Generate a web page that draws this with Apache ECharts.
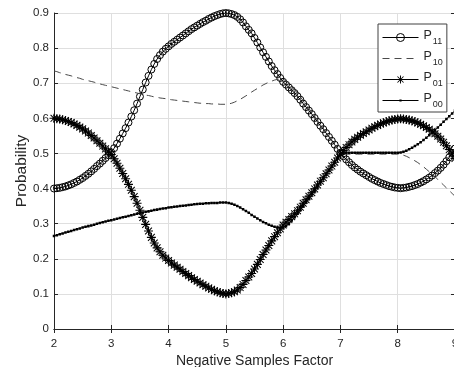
<!DOCTYPE html>
<html>
<head>
<meta charset="utf-8">
<script src="https://cdn.jsdelivr.net/npm/echarts@6/dist/echarts.min.js"></script>
<style>
  html, body { margin: 0; padding: 0; background: #fff; }
  #chart { width: 454px; height: 367px; }
</style>
</head>
<body>
<div id="chart"></div>
<script>
// negative samples factor (x), sampled every 0.05
const factors = [
  2.00, 2.05, 2.10, 2.15, 2.20, 2.25, 2.30, 2.35, 2.40, 2.45, 2.50, 2.55, 2.60, 2.65, 2.70, 2.75, 2.80, 2.85, 2.90, 2.95,
  3.00, 3.05, 3.10, 3.15, 3.20, 3.25, 3.30, 3.35, 3.40, 3.45, 3.50, 3.55, 3.60, 3.65, 3.70, 3.75, 3.80, 3.85, 3.90, 3.95,
  4.00, 4.05, 4.10, 4.15, 4.20, 4.25, 4.30, 4.35, 4.40, 4.45, 4.50, 4.55, 4.60, 4.65, 4.70, 4.75, 4.80, 4.85, 4.90, 4.95,
  5.00, 5.05, 5.10, 5.15, 5.20, 5.25, 5.30, 5.35, 5.40, 5.45, 5.50, 5.55, 5.60, 5.65, 5.70, 5.75, 5.80, 5.85, 5.90, 5.95,
  6.00, 6.05, 6.10, 6.15, 6.20, 6.25, 6.30, 6.35, 6.40, 6.45, 6.50, 6.55, 6.60, 6.65, 6.70, 6.75, 6.80, 6.85, 6.90, 6.95,
  7.00, 7.05, 7.10, 7.15, 7.20, 7.25, 7.30, 7.35, 7.40, 7.45, 7.50, 7.55, 7.60, 7.65, 7.70, 7.75, 7.80, 7.85, 7.90, 7.95,
  8.00, 8.05, 8.10, 8.15, 8.20, 8.25, 8.30, 8.35, 8.40, 8.45, 8.50, 8.55, 8.60, 8.65, 8.70, 8.75, 8.80, 8.85, 8.90, 8.95,
  9.00
];

const p11 = [
  0.400, 0.401, 0.402, 0.404, 0.406, 0.409, 0.412, 0.416, 0.420, 0.425, 0.430, 0.436, 0.442, 0.449, 0.456, 0.464, 0.471, 0.479, 0.487, 0.495,
  0.503, 0.515, 0.528, 0.542, 0.557, 0.572, 0.588, 0.605, 0.623, 0.642, 0.662, 0.682, 0.702, 0.721, 0.739, 0.755, 0.769, 0.780, 0.790, 0.798,
  0.805, 0.812, 0.818, 0.824, 0.830, 0.836, 0.842, 0.848, 0.854, 0.859, 0.864, 0.869, 0.874, 0.878, 0.883, 0.887, 0.891, 0.894, 0.897, 0.899,
  0.900, 0.899, 0.897, 0.894, 0.889, 0.882, 0.873, 0.862, 0.852, 0.842, 0.829, 0.816, 0.802, 0.788, 0.775, 0.762, 0.749, 0.737, 0.726, 0.715,
  0.704, 0.696, 0.688, 0.680, 0.672, 0.663, 0.653, 0.642, 0.632, 0.622, 0.612, 0.601, 0.590, 0.579, 0.569, 0.558, 0.547, 0.536, 0.525, 0.513,
  0.502, 0.492, 0.483, 0.475, 0.467, 0.460, 0.454, 0.448, 0.443, 0.438, 0.433, 0.428, 0.424, 0.420, 0.416, 0.413, 0.410, 0.407, 0.405, 0.403,
  0.402, 0.401, 0.402, 0.403, 0.405, 0.407, 0.410, 0.413, 0.417, 0.421, 0.426, 0.431, 0.437, 0.444, 0.451, 0.459, 0.468, 0.478, 0.489, 0.501,
  0.514
];

const p10 = [
  0.735, 0.733, 0.730, 0.728, 0.725, 0.723, 0.721, 0.718, 0.716, 0.714, 0.711, 0.709, 0.707, 0.705, 0.703, 0.700, 0.698, 0.696, 0.694, 0.692,
  0.690, 0.688, 0.686, 0.684, 0.682, 0.680, 0.678, 0.676, 0.674, 0.672, 0.670, 0.668, 0.666, 0.665, 0.663, 0.661, 0.660, 0.658, 0.657, 0.656,
  0.654, 0.653, 0.652, 0.651, 0.650, 0.649, 0.648, 0.647, 0.646, 0.645, 0.644, 0.643, 0.643, 0.642, 0.642, 0.641, 0.641, 0.641, 0.640, 0.640,
  0.640, 0.641, 0.643, 0.646, 0.650, 0.654, 0.659, 0.664, 0.669, 0.675, 0.680, 0.685, 0.690, 0.695, 0.699, 0.703, 0.706, 0.709, 0.711, 0.712,
  0.711, 0.707, 0.700, 0.691, 0.682, 0.672, 0.661, 0.650, 0.639, 0.628, 0.617, 0.606, 0.595, 0.583, 0.572, 0.561, 0.549, 0.538, 0.526, 0.514,
  0.503, 0.499, 0.498, 0.498, 0.498, 0.498, 0.498, 0.498, 0.498, 0.498, 0.498, 0.498, 0.498, 0.498, 0.498, 0.498, 0.498, 0.498, 0.498, 0.498,
  0.498, 0.497, 0.495, 0.492, 0.488, 0.484, 0.479, 0.474, 0.468, 0.462, 0.455, 0.448, 0.441, 0.434, 0.426, 0.418, 0.410, 0.402, 0.394, 0.386,
  0.378
];

const p01 = [
  0.600, 0.599, 0.598, 0.596, 0.594, 0.591, 0.588, 0.584, 0.580, 0.575, 0.570, 0.564, 0.558, 0.551, 0.544, 0.536, 0.529, 0.521, 0.513, 0.505,
  0.497, 0.485, 0.472, 0.458, 0.443, 0.428, 0.412, 0.395, 0.377, 0.358, 0.338, 0.318, 0.298, 0.279, 0.261, 0.245, 0.231, 0.220, 0.210, 0.202,
  0.195, 0.188, 0.182, 0.176, 0.170, 0.164, 0.158, 0.152, 0.146, 0.141, 0.136, 0.131, 0.126, 0.122, 0.117, 0.113, 0.109, 0.106, 0.103, 0.101,
  0.100, 0.101, 0.103, 0.106, 0.111, 0.118, 0.127, 0.138, 0.148, 0.158, 0.171, 0.184, 0.198, 0.212, 0.225, 0.238, 0.251, 0.263, 0.274, 0.285,
  0.296, 0.304, 0.312, 0.320, 0.328, 0.337, 0.347, 0.358, 0.368, 0.378, 0.388, 0.399, 0.410, 0.421, 0.431, 0.442, 0.453, 0.464, 0.475, 0.487,
  0.498, 0.508, 0.517, 0.525, 0.533, 0.540, 0.546, 0.552, 0.557, 0.562, 0.567, 0.572, 0.576, 0.580, 0.584, 0.587, 0.590, 0.593, 0.595, 0.597,
  0.598, 0.599, 0.598, 0.597, 0.595, 0.593, 0.590, 0.587, 0.583, 0.579, 0.574, 0.569, 0.563, 0.556, 0.549, 0.541, 0.532, 0.522, 0.511, 0.499,
  0.486
];

const p00 = [
  0.265, 0.267, 0.270, 0.272, 0.275, 0.277, 0.279, 0.282, 0.284, 0.286, 0.289, 0.291, 0.293, 0.295, 0.297, 0.300, 0.302, 0.304, 0.306, 0.308,
  0.310, 0.312, 0.314, 0.316, 0.318, 0.320, 0.322, 0.324, 0.326, 0.328, 0.330, 0.332, 0.334, 0.335, 0.337, 0.339, 0.340, 0.342, 0.343, 0.344,
  0.346, 0.347, 0.348, 0.349, 0.350, 0.351, 0.352, 0.353, 0.354, 0.355, 0.356, 0.357, 0.357, 0.358, 0.358, 0.359, 0.359, 0.359, 0.360, 0.360,
  0.360, 0.359, 0.357, 0.354, 0.350, 0.346, 0.341, 0.336, 0.331, 0.325, 0.320, 0.315, 0.310, 0.305, 0.301, 0.297, 0.294, 0.291, 0.289, 0.288,
  0.289, 0.293, 0.300, 0.309, 0.318, 0.328, 0.339, 0.350, 0.361, 0.372, 0.383, 0.394, 0.405, 0.417, 0.428, 0.439, 0.451, 0.462, 0.474, 0.486,
  0.497, 0.501, 0.502, 0.502, 0.502, 0.502, 0.502, 0.502, 0.502, 0.502, 0.502, 0.502, 0.502, 0.502, 0.502, 0.502, 0.502, 0.502, 0.502, 0.502,
  0.502, 0.503, 0.505, 0.508, 0.512, 0.516, 0.521, 0.526, 0.532, 0.538, 0.545, 0.552, 0.559, 0.566, 0.574, 0.582, 0.590, 0.598, 0.606, 0.614,
  0.622
];

const xTickLabels = ['2', '3', '4', '5', '6', '7', '8', '9'];
const yTickLabels = ['0', '0.1', '0.2', '0.3', '0.4', '0.5', '0.6', '0.7', '0.8', '0.9'];
const seriesNames = ['P11', 'P10', 'P01', 'P00'];

const axisColor = '#262626';
const gridColor = '#dfdfdf';
const fontFamily = '"Liberation Sans", Arial, sans-serif';

// matlab-style markers: asterisk, and a small dot padded inside a 10x10 box
const asterisk = 'path://M0,4.4L10,4.4L10,5.6L0,5.6Z M4.4,0L5.6,0L5.6,10L4.4,10Z ' +
  'M1.6,0.8L9.2,8.4L8.4,9.2L0.8,1.6Z M8.4,0.8L9.2,1.6L1.6,9.2L0.8,8.4Z';
const smallDot = 'path://M0,0L0.01,0Z M10,10L9.99,10Z M3.6,3.6L6.4,3.6L6.4,6.4L3.6,6.4Z';

const toPairs = values => values.map((v, i) => [factors[i], v]);

const chart = echarts.init(document.getElementById('chart'), null, { renderer: 'canvas' });

const sideAxis = {
  type: 'value',
  axisLine: { show: true, lineStyle: { color: axisColor, width: 1 } },
  axisTick: { show: true, inside: true, length: 4, lineStyle: { color: axisColor } },
  axisLabel: { show: false },
  splitLine: { show: false },
};

chart.setOption({
  animation: false,
  backgroundColor: '#fff',
  textStyle: { fontFamily },
  // right edge of the box sits just past the picture, like the reference
  grid: { left: 54, width: 401, top: 13, height: 316, containLabel: false, outerBoundsMode: 'none' },
  xAxis: [
    {
      type: 'value',
      position: 'bottom',
      min: 2,
      max: 9,
      interval: 1,
      name: 'Negative Samples Factor',
      nameLocation: 'middle',
      nameGap: 25,
      nameMoveOverlap: false,
      nameTextStyle: { color: axisColor, fontSize: 14, fontFamily },
      axisLine: { show: true, onZero: false, lineStyle: { color: axisColor, width: 1 } },
      axisTick: { show: true, inside: true, length: 4, lineStyle: { color: axisColor } },
      axisLabel: {
        color: axisColor,
        fontSize: 11.5,
        margin: 9,
        fontFamily,
        hideOverlap: false,
        formatter: v => xTickLabels[Math.round(v) - 2],
      },
      splitLine: { show: true, lineStyle: { color: gridColor, width: 1 } },
    },
    { ...sideAxis, position: 'top', min: 2, max: 9, interval: 1 },
  ],
  yAxis: [
    {
      type: 'value',
      position: 'left',
      min: 0,
      max: 0.9,
      interval: 0.1,
      name: 'Probability',
      nameLocation: 'middle',
      nameGap: 24,
      nameMoveOverlap: false,
      nameTextStyle: { color: axisColor, fontSize: 15.5, fontFamily },
      axisLine: { show: true, onZero: false, lineStyle: { color: axisColor, width: 1 } },
      axisTick: { show: true, inside: true, length: 4, lineStyle: { color: axisColor } },
      axisLabel: {
        color: axisColor,
        fontSize: 11.5,
        margin: 5,
        fontFamily,
        formatter: v => yTickLabels[Math.round(v * 10)],
      },
      splitLine: { show: true, lineStyle: { color: gridColor, width: 1 } },
    },
    { ...sideAxis, position: 'right', min: 0, max: 0.9, interval: 0.1 },
  ],
  legend: {
    orient: 'vertical',
    left: 378,
    top: 24,
    padding: [5, 4, 3, 4],
    itemGap: 4,
    itemWidth: 36,
    itemHeight: 10,
    backgroundColor: '#fff',
    borderColor: '#404040',
    borderWidth: 1,
    borderRadius: 0,
    lineStyle: { width: 1 },
    data: [
      { name: 'P11', itemStyle: { borderWidth: 1 } },
      { name: 'P10', itemStyle: { color: 'rgba(0,0,0,0)', borderWidth: 0 } },
      { name: 'P01' },
      { name: 'P00' },
    ],
    formatter: name => '{b|P}{s|' + name.slice(1) + '}',
    textStyle: {
      color: axisColor,
      rich: {
        b: { fontSize: 12.5, fontFamily, color: axisColor, verticalAlign: 'bottom', padding: [0, 0, 4, 0] },
        s: { fontSize: 9, fontFamily, color: axisColor, verticalAlign: 'bottom', padding: [0, 0, 0, 1] },
      },
    },
  },
  series: [
    {
      name: seriesNames[0],
      type: 'line',
      data: toPairs(p11),
      symbol: 'circle',
      symbolSize: 7,
      lineStyle: { color: '#000', width: 1 },
      itemStyle: { color: 'rgba(255,255,255,0)', borderColor: '#000', borderWidth: 1 },
      z: 2,
    },
    {
      name: seriesNames[1],
      type: 'line',
      data: toPairs(p10),
      symbol: 'none',
      lineStyle: { color: '#4a4a4a', width: 1, type: [7, 5] },
      itemStyle: { color: 'rgba(0,0,0,0)' },
      z: 3,
    },
    {
      name: seriesNames[2],
      type: 'line',
      data: toPairs(p01),
      symbol: asterisk,
      symbolSize: 9,
      lineStyle: { color: '#000', width: 1 },
      itemStyle: { color: '#000' },
      z: 4,
    },
    {
      name: seriesNames[3],
      type: 'line',
      data: toPairs(p00),
      symbol: smallDot,
      symbolSize: 9,
      lineStyle: { color: '#000', width: 1 },
      itemStyle: { color: '#000' },
      z: 5,
    },
  ],
});

window.addEventListener('resize', () => chart.resize());
</script>
</body>
</html>
